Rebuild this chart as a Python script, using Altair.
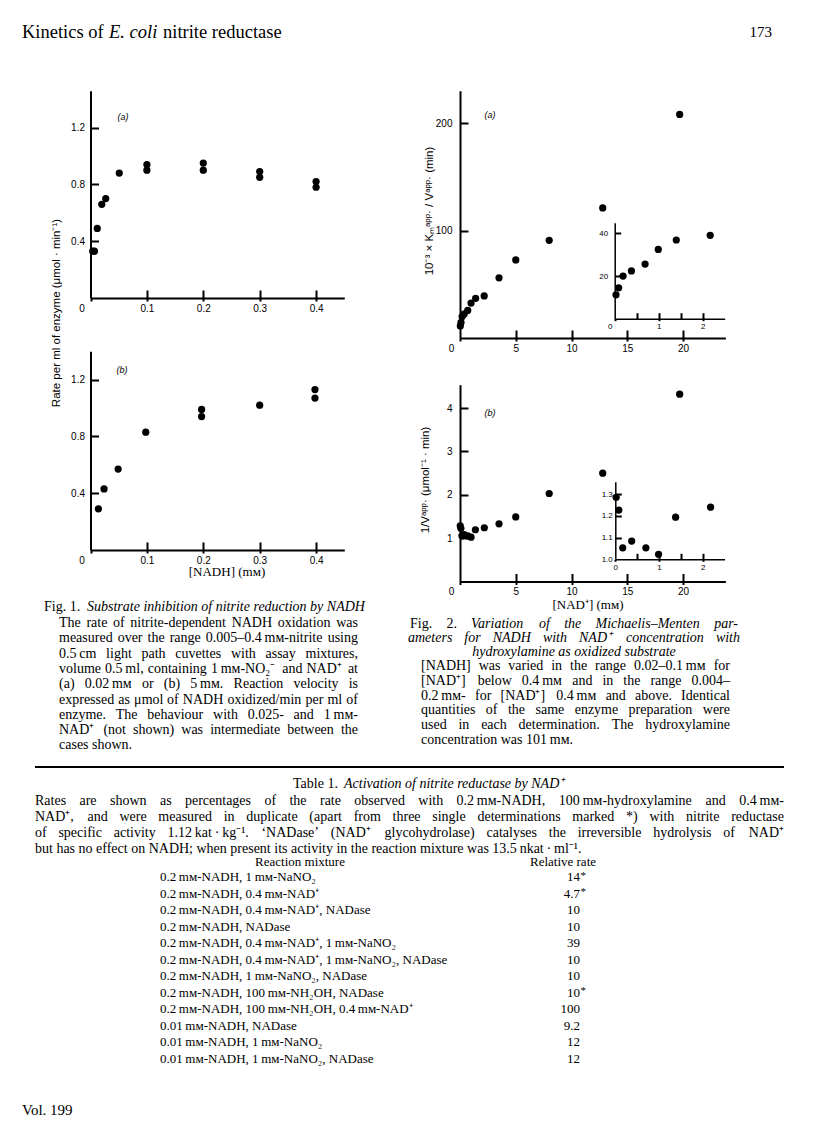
import altair as alt
import pandas as pd

W, H = 800, 1120   # drawing canvas (page minus 8px margins)
M = 8              # page margin

# ---------------- data ----------------
# Fig. 1(a): NAD+ 0.02 mM
f1a_nadh = [0.004, 0.007, 0.012, 0.020, 0.027, 0.051, 0.10, 0.10, 0.20, 0.20, 0.30, 0.30, 0.40, 0.40]
f1a_rate = [0.33, 0.33, 0.49, 0.66, 0.70, 0.88, 0.94, 0.90, 0.95, 0.90, 0.89, 0.85, 0.82, 0.78]
# Fig. 1(b): NAD+ 5 mM
f1b_nadh = [0.014, 0.024, 0.049, 0.098, 0.197, 0.197, 0.30, 0.398, 0.398]
f1b_rate = [0.29, 0.43, 0.57, 0.83, 0.99, 0.94, 1.02, 1.13, 1.07]
# Fig. 2(a): 1e-3 x Km/V vs [NAD+]
f2a_nad = [0.03, 0.09, 0.19, 0.38, 0.69, 0.99, 1.40, 2.17, 3.5, 5.0, 8.0, 12.8, 19.7]
f2a_kmv = [11.2, 14.5, 20.0, 22.4, 25.6, 32.5, 36.9, 39.1, 56.0, 72.6, 90.9, 121.0, 208.0]
# Fig. 2(a) inset
f2ai_nad = [0.03, 0.09, 0.19, 0.38, 0.69, 0.99, 1.40, 2.17]
f2ai_kmv = [11.2, 14.5, 20.0, 22.4, 25.6, 32.5, 36.9, 39.1]
# Fig. 2(b): 1/V vs [NAD+]
f2b_nad = [0.02, 0.08, 0.17, 0.375, 0.70, 0.99, 1.38, 2.18, 3.5, 5.0, 8.0, 12.8, 19.7]
f2b_invv = [1.286, 1.227, 1.053, 1.084, 1.053, 1.023, 1.194, 1.24, 1.33, 1.49, 2.03, 2.50, 4.32]
# Fig. 2(b) inset
f2bi_nad = [0.02, 0.08, 0.17, 0.375, 0.70, 0.99, 1.38, 2.18]
f2bi_invv = [1.286, 1.227, 1.053, 1.084, 1.053, 1.023, 1.194, 1.24]

MM = "\u2009m\u1d0d"
# Table 1
tab_mixture = [
    f"0.2{MM}-NADH, 1{MM}-NaNO\u2082",
    f"0.2{MM}-NADH, 0.4{MM}-NAD\u207a",
    f"0.2{MM}-NADH, 0.4{MM}-NAD\u207a, NADase",
    f"0.2{MM}-NADH, NADase",
    f"0.2{MM}-NADH, 0.4{MM}-NAD\u207a, 1{MM}-NaNO\u2082",
    f"0.2{MM}-NADH, 0.4{MM}-NAD\u207a, 1{MM}-NaNO\u2082, NADase",
    f"0.2{MM}-NADH, 1{MM}-NaNO\u2082, NADase",
    f"0.2{MM}-NADH, 100{MM}-NH\u2082OH, NADase",
    f"0.2{MM}-NADH, 100{MM}-NH\u2082OH, 0.4{MM}-NAD\u207a",
    f"0.01{MM}-NADH, NADase",
    f"0.01{MM}-NADH, 1{MM}-NaNO\u2082",
    f"0.01{MM}-NADH, 1{MM}-NaNO\u2082, NADase",
]
tab_rate = ["14", "4.7", "10", "10", "39", "10", "10", "10", "100", "9.2", "12", "12"]
tab_single = [True, True, False, False, False, False, False, True, False, False, False, False]

cap1_title = "Substrate inhibition of nitrite reduction by NADH"
cap1_body = [
    "The rate of nitrite-dependent NADH oxidation was",
    f"measured over the range 0.005\u20130.4{MM}-nitrite using",
    "0.5\u2009cm light path cuvettes with assay mixtures,",
    f"volume 0.5\u2009ml, containing 1{MM}-NO\u2082\u207b and NAD\u207a at",
    f"(a) 0.02{MM} or (b) 5{MM}. Reaction velocity is",
    "expressed as \u03bcmol of NADH oxidized/min per ml of",
    f"enzyme. The behaviour with 0.025- and 1{MM}-",
    "NAD\u207a (not shown) was intermediate between the",
    "cases shown.",
]
cap2_title = [
    "Variation of the Michaelis\u2013Menten par-",
    "ameters for NADH with NAD\u207a concentration with",
    "hydroxylamine as oxidized substrate",
]
cap2_body = [
    f"[NADH] was varied in the range 0.02\u20130.1{MM} for",
    f"[NAD\u207a] below 0.4{MM} and in the range 0.004\u2013",
    f"0.2{MM}- for [NAD\u207a] 0.4{MM} and above. Identical",
    "quantities of the same enzyme preparation were",
    "used in each determination. The hydroxylamine",
    f"concentration was 101{MM}.",
]
tab_para = [
    f"Rates are shown as percentages of the rate observed with 0.2{MM}-NADH, 100{MM}-hydroxylamine and 0.4{MM}-",
    "NAD\u207a, and were measured in duplicate (apart from three single determinations marked *) with nitrite reductase",
    "of specific activity 1.12\u2009kat\u2009\u00b7\u2009kg\u207b\u00b9. \u2018NADase\u2019 (NAD\u207a glycohydrolase) catalyses the irreversible hydrolysis of NAD\u207a",
    "but has no effect on NADH; when present its activity in the reaction mixture was 13.5\u2009nkat\u2009\u00b7\u2009ml\u207b\u00b9.",
]

SANS = "Liberation Sans"
SERIF = "Liberation Serif"

# ---------------- approximate Times advance widths (for justifying lines) ----------------
def _parse(s):
    return {tok[0]: int(tok[1:]) for tok in s.split()}

TN = _parse("A722 B667 C667 D722 E611 F556 G722 H722 I333 J389 K722 L611 M889 N722 O722 P556 Q722 "
            "R667 S556 T611 U722 V722 W944 X722 Y722 Z611 a444 b500 c444 d500 e444 f333 g500 h500 "
            "i278 j278 k500 l278 m778 n500 o500 p500 q500 r333 s389 t278 u500 v500 w722 x500 y500 z444")
TI = _parse("A611 B611 C667 D722 E611 F611 G722 H722 I333 J444 K667 L556 M833 N667 O722 P611 Q722 "
            "R611 S500 T556 U722 V611 W833 X611 Y556 Z556 a500 b500 c444 d500 e444 f278 g500 h500 "
            "i278 j278 k444 l278 m722 n500 o500 p500 q500 r389 s389 t278 u500 v444 w667 x444 y444 z389")
PUNCT = {" ": 250, "(": 333, ")": 333, "[": 333, "]": 333, ",": 250, ".": 250, "-": 333, "/": 278,
         ";": 278, ":": 278, "*": 500, "\u2009": 200, "\u1d0d": 650, "\u207a": 500, "\u207b": 500,
         "\u2082": 400, "\u00b9": 300, "\u03bc": 500, "\u00b7": 250, "\u2013": 500, "\u2018": 333,
         "\u2019": 333, "\u00d7": 564}
for _t in (TN, TI):
    _t.update(PUNCT)


def tw(word, size, style):
    tab = TI if style == "italic" else TN
    return sum(tab.get(c, 500) for c in word) * size / 1000.0


TXT = []


def put(t, x, y, size, style="normal", align="left", font=SERIF, angle=0):
    TXT.append(dict(t=t, px=x - M, py=y - M, size=size, style=style, align=align,
                    font=font, angle=angle))


def justify(words, x0, x1, y, size):
    """words: list of (text, style); spread between x0 and x1."""
    ws = [tw(w, size, s) for w, s in words]
    gap = (x1 - x0 - sum(ws)) / (len(words) - 1)
    x = x0
    for i, ((w, s), wd) in enumerate(zip(words, ws)):
        if i == len(words) - 1:
            put(w, x1, y, size, s, "right")
        else:
            put(w, x, y, size, s)
        x += wd + gap


def justify_line(line, x0, x1, y, size, style="normal"):
    justify([(w, style) for w in line.split(" ")], x0, x1, y, size)


def panel(xv, yv, xdom, x0, xppu, ydom, y0, yppu, xlabels, ylabels, xticks, yticks,
          xfmt, yfmt, lsize, ylpad, zero_off, in_len, dom_w, out_len, psize=52):
    """One scatter panel whose plot rectangle is placed on the page by its scale ranges."""
    df = pd.DataFrame({"x": xv, "y": yv})
    xa = x0 - M
    ya = y0 - M
    xr = [xa, xa + (xdom[1] - xdom[0]) * xppu]
    yr = [ya, ya - (ydom[1] - ydom[0]) * yppu]
    xs = alt.Scale(domain=xdom, range=xr, nice=False, zero=False)
    ys = alt.Scale(domain=ydom, range=yr, nice=False, zero=False)
    common = dict(grid=False, title=None, domainColor="black", tickColor="black",
                  labelColor="black", labelFont=SANS, labelFontSize=lsize,
                  labelFlush=False, labelOverlap=False, domainWidth=dom_w, tickWidth=2)
    main = alt.Chart(df).mark_circle(size=psize, color="black", opacity=1).encode(
        x=alt.X("x:Q", scale=xs, axis=alt.Axis(
            orient="bottom", offset=ya - H, values=xlabels, format=xfmt,
            tickSize=out_len, labelPadding=2,
            labelOffset={"condition": {"test": "datum.value === 0", "value": zero_off}, "value": 0},
            **common)),
        y=alt.Y("y:Q", scale=ys, axis=alt.Axis(
            orient="left", offset=-xa, values=ylabels, format=yfmt,
            ticks=False, labelPadding=ylpad, **common)),
    )
    inner = alt.Chart(df).mark_circle(size=psize, opacity=0).encode(
        x=alt.X("x:Q", scale=xs, axis=alt.Axis(
            orient="top", offset=-ya, values=xticks, labels=False, domain=False,
            tickSize=in_len, **common)),
        y=alt.Y("y:Q", scale=ys, axis=alt.Axis(
            orient="right", offset=xa - W, values=yticks, labels=False, domain=False,
            tickSize=in_len, **common)),
    )
    return [main, inner]


layers = []
# Fig. 1(a)
layers += panel(f1a_nadh, f1a_rate, [0, 0.45], 90.5, 564, [0, 1.46], 298, 142,
                [0, 0.1, 0.2, 0.3, 0.4], [0.4, 0.8, 1.2], [0.1, 0.2, 0.3, 0.4], [0.4, 0.8, 1.2],
                ".1~f", ".1f", 10, 6, -9, 8, 2, 3)
# Fig. 1(b)
layers += panel(f1b_nadh, f1b_rate, [0, 0.45], 90.5, 564, [0, 1.40], 550, 142,
                [0, 0.1, 0.2, 0.3, 0.4], [0.4, 0.8, 1.2], [0.1, 0.2, 0.3, 0.4], [0.4, 0.8, 1.2],
                ".1~f", ".1f", 10, 6, -9, 8, 2, 3)
# Fig. 2(a)
layers += panel(f2a_nad, f2a_kmv, [0, 23.8], 460, 11.15, [0, 230], 338, 1.075,
                [0, 5, 10, 15, 20], [100, 200], [5, 10, 15, 20], [100, 200],
                "d", "d", 10, 8, -9, 8, 2, 3)
# Fig. 2(a) inset
layers += panel(f2ai_nad, f2ai_kmv, [0, 2.5], 614.7, 44, [0, 45], 318.7, 2.133,
                [0, 1, 2], [20, 40], [0.5, 1, 1.5, 2], [20, 40],
                "d", "d", 8, 7, -5, 6, 1.5, 2)
# Fig. 2(b)
layers += panel(f2b_nad, f2b_invv, [0, 23.8], 460, 11.15, [0, 4.54], 581.5, 43.35,
                [0, 5, 10, 15, 20], [1, 2, 3, 4], [5, 10, 15, 20], [1, 2, 3, 4],
                "d", "d", 10, 8, -9, 8, 2, 3)
# Fig. 2(b) inset
layers += panel(f2bi_nad, f2bi_invv, [0, 2.5], 615.3, 43.7, [1.0, 1.357], 559.3, 217,
                [0, 1, 2], [1.0, 1.1, 1.2, 1.3], [0.5, 1, 1.5, 2], [1.1, 1.2, 1.3],
                "d", ".1f", 8, 3, 0, 6, 1.5, 2)

# ---------------- texts ----------------
for t, x, y in [("(a)", 123, 117), ("(b)", 122, 370), ("(a)", 490, 115), ("(b)", 490, 413)]:
    put(t, x, y, 9, "italic", "center", SANS)
put("Rate per ml of enzyme (\u03bcmol \u00b7 min\u207b\u00b9)", 57, 313, 11.5, align="center", font=SANS, angle=270)
put("10\u207b\u00b3 \u00d7 K\u2098\u1d43\u1d56\u1d56\u00b7 / V\u1d43\u1d56\u1d56\u00b7 (min)", 430, 211, 11.5,
    align="center", font=SANS, angle=270)
put("1/V\u1d43\u1d56\u1d56\u00b7 (\u03bcmol\u207b\u00b9 \u00b7 min)", 426, 480, 11.5, align="center", font=SANS, angle=270)
put(f"[NADH] (m\u1d0d)", 227, 572, 13, align="center")
put(f"[NAD\u207a] (m\u1d0d)", 588, 605, 13, align="center")

# running head / foot
HD = 18.5
put("Kinetics of", 22, 32, HD)
put("E. coli", 109, 32, HD, "italic")
put("nitrite reductase", 163, 32, HD)
put("173", 772, 32, 15, align="right")
put("Vol. 199", 22, 1110, 15)

# Fig. 1 caption
CAP = 14
put("Fig. 1.", 44, 607, CAP)
put(cap1_title, 87, 607, CAP, "italic")
for i, line in enumerate(cap1_body):
    y = 623 + 15.3 * i
    if i < len(cap1_body) - 1:
        justify_line(line, 59, 358, y, CAP)
    else:
        put(line, 59, y, CAP)

# Fig. 2 caption
justify([("Fig.", "normal"), ("2.", "normal")] + [(w, "italic") for w in cap2_title[0].split(" ")],
        410, 738, 624, CAP)
justify_line(cap2_title[1], 408, 740, 638, CAP, "italic")
put(cap2_title[2], 574, 652, CAP, "italic", "center")
for i, line in enumerate(cap2_body):
    y = 666 + 14.8 * i
    if i < len(cap2_body) - 1:
        justify_line(line, 421, 730, y, CAP)
    else:
        put(line, 421, y, CAP)

# Table 1
TB = 13
TP = 14
put("Table 1.", 293, 784, TP)
put("Activation of nitrite reductase by NAD\u207a", 344, 784, TP, "italic")
for i, line in enumerate(tab_para):
    y = 801 + 16 * i
    if i < len(tab_para) - 1:
        justify_line(line, 35, 784, y, TP)
    else:
        put(line, 35, y, TP)
put("Reaction mixture", 300, 862, TB, align="center")
put("Relative rate", 563, 862, TB, align="center")
for i, (mix, rate, single) in enumerate(zip(tab_mixture, tab_rate, tab_single)):
    y = 877 + 16.5 * i
    put(mix, 160, y, TB)
    put(rate, 580, y, TB, align="right")
    if single:
        put("*", 580.5, y - 1.5, 11)

tdf = pd.DataFrame(TXT)
for (size, style, align, font, angle), g in tdf.groupby(["size", "style", "align", "font", "angle"]):
    layers.append(alt.Chart(g[["t", "px", "py"]]).mark_text(
        font=font, fontSize=float(size), fontStyle=style, align=align, baseline="middle",
        angle=float(angle), color="black").encode(
        x=alt.X("px:Q", scale=None, axis=None),
        y=alt.Y("py:Q", scale=None, axis=None),
        text="t:N"))

# separating rule
layers.append(alt.Chart(pd.DataFrame({"a": [0]})).mark_rule(color="black", strokeWidth=2).encode(
    x=alt.value(35 - M), x2=alt.value(784 - M), y=alt.value(767 - M)))

chart = alt.layer(*layers).resolve_scale(x="independent", y="independent").properties(
    width=W, height=H, padding=0, autosize="none"
).configure_view(strokeWidth=0)

chart.save("out.html", embed_options={"renderer": "svg", "actions": False})
